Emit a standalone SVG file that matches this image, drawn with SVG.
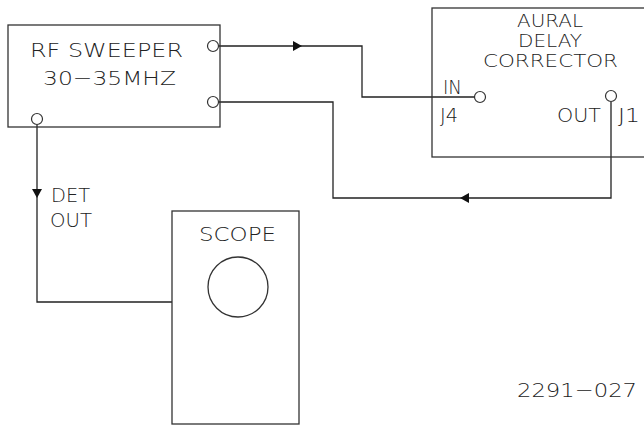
<svg xmlns="http://www.w3.org/2000/svg" width="644" height="425" viewBox="0 0 644 425">
<style>
.box{fill:none;stroke:#333;stroke-width:1.3}
.port{fill:#fff;stroke:#333;stroke-width:1.2}
.wire{fill:none;stroke:#222;stroke-width:1.3}
.arr{fill:#111}
text{font-family:"DejaVu Sans","Liberation Sans",sans-serif;font-weight:200;font-size:20px;fill:#222}
.tight{font-size:17px}
</style>
<rect width="644" height="425" fill="#fff"/>
<g id="connectors">
<polyline class="wire" points="219,46 362,46 362,97 474,97"/>
<polyline class="wire" points="219,102 333,102 333,198 611,198 611,102"/>
<polyline class="wire" points="37,125 37,302 172,302"/>
<polygon class="arr" points="293,41 302,46 293,51"/>
<polygon class="arr" points="469,193 460,198 469,203"/>
<polygon class="arr" points="32,189 42,189 37,198"/>
</g>
<g id="rf-sweeper">
<rect class="box" x="8" y="25" width="212" height="102"/>
<text x="30" y="57" textLength="153" lengthAdjust="spacingAndGlyphs">RF SWEEPER</text>
<text x="43" y="85" textLength="133" lengthAdjust="spacingAndGlyphs">30−35MHZ</text>
<circle class="port" cx="213" cy="46" r="5.5"/>
<circle class="port" cx="213" cy="102" r="5.5"/>
<circle class="port" cx="37" cy="119" r="5.5"/>
</g>
<g id="aural-delay-corrector">
<rect class="box" x="432" y="8" width="230" height="149"/>
<text class="tight" x="517" y="27" textLength="66" lengthAdjust="spacingAndGlyphs">AURAL</text>
<text class="tight" x="518" y="47" textLength="64" lengthAdjust="spacingAndGlyphs">DELAY</text>
<text class="tight" x="483" y="67" textLength="135" lengthAdjust="spacingAndGlyphs">CORRECTOR</text>
<text x="443" y="94" textLength="19" lengthAdjust="spacingAndGlyphs">IN</text>
<text x="440" y="122" textLength="18" lengthAdjust="spacingAndGlyphs">J4</text>
<text x="557" y="122" textLength="44" lengthAdjust="spacingAndGlyphs">OUT</text>
<text x="618" y="122" textLength="22" lengthAdjust="spacingAndGlyphs">J1</text>
<circle class="port" cx="480" cy="97" r="5.5"/>
<circle class="port" cx="611" cy="96" r="5.5"/>
</g>
<g id="det-out-label">
<text x="51" y="202" textLength="39" lengthAdjust="spacingAndGlyphs">DET</text>
<text x="50" y="227" textLength="42" lengthAdjust="spacingAndGlyphs">OUT</text>
</g>
<g id="scope">
<rect class="box" x="172" y="211" width="127" height="213"/>
<text x="199" y="241" textLength="77" lengthAdjust="spacingAndGlyphs">SCOPE</text>
<circle class="box" cx="238" cy="287" r="30"/>
</g>
<g id="figure-number">
<text x="517" y="397" textLength="120" lengthAdjust="spacingAndGlyphs">2291−027</text>
</g>
</svg>
